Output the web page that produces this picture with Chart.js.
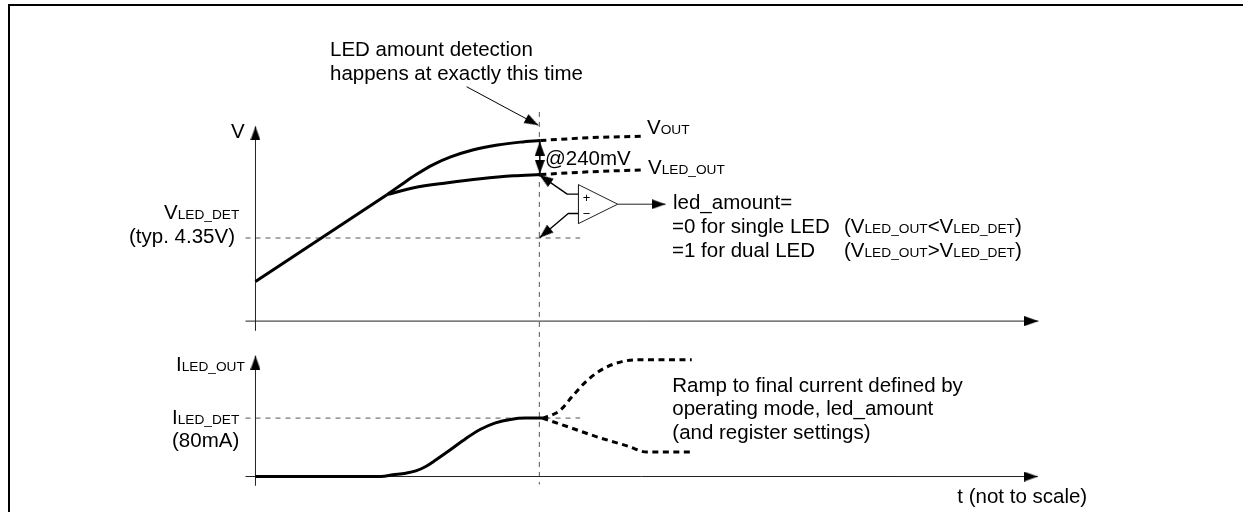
<!DOCTYPE html>
<html><head><meta charset="utf-8">
<style>html,body{margin:0;padding:0;background:#fff}canvas{display:block}</style>
<script src="https://cdn.jsdelivr.net/npm/chart.js@4"></script>
</head><body><canvas id="c" width="1243" height="512"></canvas>
<script>
// Time is in arbitrary units; voltage in V; current in mA
const tVoltRamp=[0,132];                const vVoltRamp=[4.036,4.663];
const tVout=[132,146,161,178,196,218,243,266,286];
const vVout=[4.663,4.733,4.806,4.878,4.935,4.985,5.021,5.042,5.054];
const tVoutAfter=[286,336,389];         const vVoutAfter=[5.054,5.074,5.085];
const tVled=[132,159,193,226,259,286];  const vVled=[4.663,4.713,4.749,4.778,4.799,4.808];
const tVledAfter=[286,336,389];         const vVledAfter=[4.808,4.828,4.842];
const tCurrent=[0,126,138,151,161,171,181,196,211,226,241,256,271,288];
const iCurrent=[0,0,2.3,4.6,7.7,13.8,22.6,36.9,51.8,64.7,73.5,78.2,80,80];
const tCurrentHigh=[288,296,306,319,333,349,368,386,438];
const iCurrentHigh=[80,83.3,90.8,111.2,131.5,147.4,157.3,160,160];
const tCurrentLow=[288,316,344,373,393,438];
const iCurrentLow=[80,67,53.8,42,33.5,33.5];
const V_DET=4.35, I_DET=80, T_DETECT=285;
const tDetLine=[-10,326];
const tMarker=[T_DETECT,T_DETECT];      const vMarker=[5.26,2.57];
const tVAxisH=[-10,786];                const vVAxisH=[3.75,3.75];
const tVAxisV=[0,0];                    const vVAxisV=[3.68,5.156];
const tIAxisH=[-10,785.5];              const iIAxisH=[0,0];
const tIAxisV=[0,0];                    const iIAxisV=[-12.6,165.4];
const tNote=[212,284];                  const vNote=[5.442,5.164];
const tGap=[285.5,285.5];               const vGap=[5.046,4.813];
const tComp=[324.3,324.3,363.7,324.3];  const vComp=[4.735,4.454,4.594,4.735];
const tPlus=[324,313,285];              const vPlus=[4.667,4.667,4.806];
const tMinus=[324,314,285.3];           const vMinus=[4.527,4.527,4.352];
const tOut=[363.7,411.7];               const vOut=[4.594,4.594];

const SANS='"Liberation Sans",Arial,sans-serif';
function head(L,H){
  const c=document.createElement('canvas');c.width=2*L;c.height=2*H;
  const g=c.getContext('2d');g.fillStyle='#000';
  g.beginPath();g.moveTo(L,H);g.lineTo(0,0);g.lineTo(0,2*H);g.closePath();g.fill();
  return c;
}
const bigHead=head(14,5);
function series(xs,ys,axis,opt={}){
  const heads=opt.heads||{};
  return {
    data:xs.map((x,i)=>({x,y:ys[i]})),yAxisID:axis,showLine:true,
    borderColor:opt.color||'#000',borderWidth:opt.width||1,borderDash:opt.dash||[],
    borderCapStyle:'butt',borderJoinStyle:'round',
    cubicInterpolationMode:opt.smooth?'monotone':'default',tension:0,fill:false,
    backgroundColor:'#000',
    pointStyle:bigHead,
    pointRadius:c=>heads[c.dataIndex]!==undefined?1:0,
    pointHoverRadius:0,
    pointRotation:c=>heads[c.dataIndex]||0
  };
}
const THICK=3, DOTS=[6,4.5], GREY='#555', DARK='#222';
const datasets=[
  series(tGap,vGap,'volt',{width:1.5,heads:{0:-90,1:90}}),
  series(tNote,vNote,'volt',{heads:{1:28.4}}),
  series(tPlus,vPlus,'volt',{width:1.4,heads:{2:214.9}}),
  series(tMinus,vMinus,'volt',{width:1.4,heads:{2:139.5}}),
  series(tOut,vOut,'volt',{color:DARK,heads:{1:0}}),
  series(tComp,vComp,'volt',{color:DARK}),
  series(tVoltRamp,vVoltRamp,'volt',{width:THICK}),
  series(tVout,vVout,'volt',{width:THICK,smooth:true}),
  series(tVled,vVled,'volt',{width:THICK,smooth:true}),
  series(tVoutAfter,vVoutAfter,'volt',{width:THICK,smooth:true,dash:DOTS}),
  series(tVledAfter,vVledAfter,'volt',{width:THICK,smooth:true,dash:DOTS}),
  series(tCurrent,iCurrent,'amp',{width:THICK,smooth:true}),
  series(tCurrentHigh,iCurrentHigh,'amp',{width:THICK,smooth:true,dash:DOTS}),
  series(tCurrentLow,iCurrentLow,'amp',{width:THICK,smooth:true,dash:DOTS}),
  series(tVAxisH,vVAxisH,'volt',{color:DARK,heads:{1:0}}),
  series(tVAxisV,vVAxisV,'volt',{color:DARK,heads:{1:-90}}),
  series(tIAxisH,iIAxisH,'amp',{color:DARK,heads:{1:0}}),
  series(tIAxisV,iIAxisV,'amp',{color:DARK,heads:{1:-90}}),
  series(tMarker,vMarker,'volt',{color:GREY,dash:[5,5]}),
  series(tDetLine,[V_DET,V_DET],'volt',{color:GREY,dash:[5,5]}),
  series(tDetLine,[I_DET,I_DET],'amp',{color:GREY,dash:[5,5]})
];

// Labels: each is a list of runs; a leading "_" marks the small-caps-sized run
const BIG=20.5, SMALL=13.7;
const labels=[
  [330,56,'LED amount detection'],
  [330,79.5,'happens at exactly this time'],
  [231,138,'V'],
  [647,134,'V','_OUT'],
  [545,165,'@240mV'],
  [648,173.5,'V','_LED_OUT'],
  [673,209.3,'led_amount='],
  [672,233.3,'=0 for single LED'],
  [844,233.3,'(V','_LED_OUT','<V','_LED_DET',')'],
  [672,257.3,'=1 for dual LED'],
  [844,257.3,'(V','_LED_OUT','>V','_LED_DET',')'],
  [164,219,'V','_LED_DET'],
  [129,243,'(typ. 4.35V)'],
  [176,370.7,'I','_LED_OUT'],
  [172,424,'I','_LED_DET'],
  [172,447,'(80mA)'],
  [672.3,391.7,'Ramp to final current defined by'],
  [672.3,415,'operating mode, led_amount'],
  [672.3,439.3,'(and register settings)'],
  [957.3,502.7,'t (not to scale)']
];
const pageParts={
  id:'pageParts',
  beforeDraw(ch){
    const g=ch.ctx;g.save();g.fillStyle='#fff';g.fillRect(0,0,1243,512);
    g.fillStyle='#000';g.fillRect(8,4,1235,2);g.fillRect(8,4,2,508);g.restore();
  },
  afterDatasetsDraw(ch){
    const g=ch.ctx;g.save();g.fillStyle='#000';g.textBaseline='alphabetic';g.textAlign='left';
    for(const [x0,y,...runs] of labels){
      let x=x0;
      for(const r of runs){
        const small=r[0]==='_',s=small?r.slice(1):r;
        g.font=(small?SMALL:BIG)+'px '+SANS;
        g.fillText(s,x,y);x+=g.measureText(s).width;
      }
    }
    g.font='13px '+SANS;g.textAlign='center';
    g.fillText('+',586.5,202);g.fillText('\u2212',586.5,217.5);
    g.restore();
  }
};
new Chart(document.getElementById('c'),{
  type:'scatter',
  data:{datasets},
  options:{
    responsive:false,animation:false,events:[],
    layout:{padding:0},
    plugins:{legend:{display:false},tooltip:{enabled:false},title:{display:false}},
    scales:{
      x:{type:'linear',min:-254,max:989,display:false},
      volt:{type:'linear',min:2.39,max:6.05,display:false},
      amp:{type:'linear',min:-45.15,max:649,display:false}
    }
  },
  plugins:[pageParts]
});
</script></body></html>
